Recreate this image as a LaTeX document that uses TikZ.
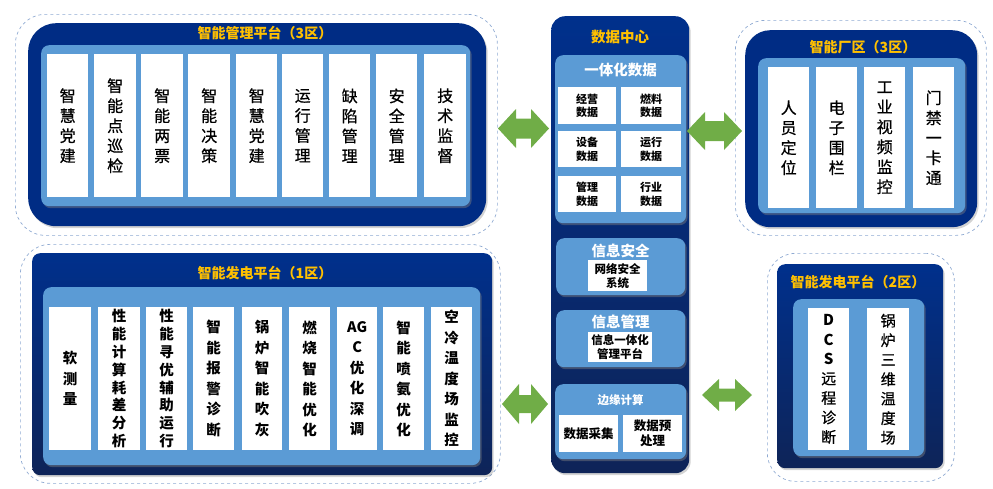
\documentclass[tikz,border=0pt]{standalone}
\usepackage{fontspec}
\newfontfamily\cjk{Noto Sans CJK SC}
\newfontfamily\cjkm{Noto Sans CJK SC}[FakeBold=0.6]
\usetikzlibrary{shadows,calc}
\definecolor{dkblue}{RGB}{0,44,132}
\definecolor{dkblueT}{RGB}{0,48,140}
\definecolor{dkblueB}{RGB}{14,36,88}
\definecolor{ltblue}{RGB}{91,155,213}
\definecolor{gold}{RGB}{255,192,0}
\definecolor{dashc}{RGB}{143,170,210}
\definecolor{agreen}{RGB}{112,173,71}
\begin{document}
\begin{tikzpicture}[x=1pt,y=-1pt,font=\cjk,
  rect/.style n args={4}{at={(#1,#2)},anchor=north west,inner sep=0pt,
     minimum width={#3pt-#1pt},minimum height={#4pt-#2pt}},
  dashbox/.style={draw=dashc,dashed,line width=0.7pt,rounded corners=30pt},
  darkpanel/.style={fill=dkblue,drop shadow={shadow xshift=1.5pt,shadow yshift=-2pt,opacity=0.35}},
  gradpanel/.style={top color=dkblueT,bottom color=dkblueB,drop shadow={shadow xshift=1.5pt,shadow yshift=-2pt,opacity=0.35}},
  lightpanel/.style={fill=ltblue,rounded corners=8pt,drop shadow={shadow xshift=1.5pt,shadow yshift=-2pt,opacity=0.45}},
  wbox/.style={fill=white,align=center,text=black},
  vtxt/.style={font=\cjkm\fontsize{16}{20}\selectfont},
  vbold/.style={font=\cjk\bfseries\fontsize{14.5}{20.5}\selectfont},
  vboldt/.style={font=\cjk\bfseries\fontsize{14.5}{17.8}\selectfont},
  stxt/.style={font=\cjk\bfseries\fontsize{11}{13.5}\selectfont},
  ttl/.style={text=gold,font=\cjk\bfseries\fontsize{14}{16}\selectfont},
  wttl/.style={text=white,font=\cjk\bfseries\fontsize{14.5}{16}\selectfont},
  dblarrow/.style={fill=agreen,draw=none}
]
\useasboundingbox (0,0) rectangle (993,488);

% ===== top-left: 智能管理平台 =====
\node[dashbox,rect={15}{14}{497}{235}] (tlD) {};
\node[darkpanel,rounded corners=28pt,rect={28}{23}{486}{226}] (tlP) {};
\node[ttl] (tlT) at (265,33.5) {智能管理平台（3区）};
\node[lightpanel,rect={41}{45}{470}{206}] (tlL) {};
\node[wbox,vtxt,rect={47}{54}{88}{197}] (tl1) {智\\慧\\党\\建};
\node[wbox,vtxt,rect={94}{54}{136}{197}] (tl2) {智\\能\\点\\巡\\检};
\node[wbox,vtxt,rect={141}{54}{183}{197}] (tl3) {智\\能\\两\\票};
\node[wbox,vtxt,rect={188}{54}{230}{197}] (tl4) {智\\能\\决\\策};
\node[wbox,vtxt,rect={236}{54}{277}{197}] (tl5) {智\\慧\\党\\建};
\node[wbox,vtxt,rect={282}{54}{323}{197}] (tl6) {运\\行\\管\\理};
\node[wbox,vtxt,rect={329}{54}{370}{197}] (tl7) {缺\\陷\\管\\理};
\node[wbox,vtxt,rect={376}{54}{417}{197}] (tl8) {安\\全\\管\\理};
\node[wbox,vtxt,rect={424}{54}{466}{197}] (tl9) {技\\术\\监\\督};

% ===== bottom-left: 智能发电平台（1区） =====
\node[dashbox,rect={20}{244}{500}{483}] (blD) {};
\node[gradpanel,rounded corners=8pt,rect={32}{253}{492}{475}] (blP) {};
\node[ttl] (blT) at (265,273) {智能发电平台（1区）};
\node[lightpanel,rect={43}{287}{480}{465}] (blL) {};
\node[wbox,vbold,rect={49}{307}{91}{450}] (bl1) {软\\测\\量};
\node[wbox,vboldt,rect={98}{307}{140}{450}] (bl2) {性\\能\\计\\算\\耗\\差\\分\\析};
\node[wbox,vboldt,rect={146}{307}{187}{450}] (bl3) {性\\能\\寻\\优\\辅\\助\\运\\行};
\node[wbox,vbold,rect={193}{307}{234}{450}] (bl4) {智\\能\\报\\警\\诊\\断};
\node[wbox,vbold,rect={242}{307}{282}{450}] (bl5) {锅\\炉\\智\\能\\吹\\灰};
\node[wbox,vbold,rect={289}{307}{330}{450}] (bl6) {燃\\烧\\智\\能\\优\\化};
\node[wbox,vbold,rect={337}{307}{377}{450}] (bl7) {AG\\C\\优\\化\\深\\调};
\node[wbox,vbold,rect={383}{307}{424}{450}] (bl8) {智\\能\\喷\\氨\\优\\化};
\node[wbox,vbold,rect={431}{307}{472}{450}] (bl9) {空\\冷\\温\\度\\场\\监\\控};

% ===== center: 数据中心 =====
\node[gradpanel,rounded corners=14pt,rect={551}{16}{689}{473}] (dc) {};
\node[ttl,font=\cjk\bfseries\fontsize{14.5}{16}\selectfont] (dcT) at (620,37) {数据中心};
\node[lightpanel,rect={555}{55}{686}{223}] (dc1) {};
\node[wttl] (dc1T) at (620.5,70) {一体化数据};
\node[wbox,stxt,rect={558}{87}{616}{124}] (d11) {经营\\数据};
\node[wbox,stxt,rect={621}{87}{681}{124}] (d12) {燃料\\数据};
\node[wbox,stxt,rect={558}{131}{616}{167}] (d21) {设备\\数据};
\node[wbox,stxt,rect={621}{131}{681}{167}] (d22) {运行\\数据};
\node[wbox,stxt,rect={558}{176}{616}{212}] (d31) {管理\\数据};
\node[wbox,stxt,rect={621}{176}{681}{212}] (d32) {行业\\数据};
\node[lightpanel,rect={556}{238}{685}{295}] (dc2) {};
\node[wttl] (dc2T) at (620.5,251) {信息安全};
\node[wbox,stxt,font=\cjk\bfseries\fontsize{11.5}{14}\selectfont,rect={588}{260}{647}{291}] (d41) {网络安全\\系统};
\node[lightpanel,rect={556}{310}{685}{367}] (dc3) {};
\node[wttl] (dc3T) at (620.5,322) {信息管理};
\node[wbox,stxt,font=\cjk\bfseries\fontsize{11.5}{14}\selectfont,rect={588}{332}{652}{362}] (d51) {信息一体化\\管理平台};
\node[lightpanel,rect={555}{384}{686}{459}] (dc4) {};
\node[wttl,font=\cjk\bfseries\fontsize{11.5}{13}\selectfont] (dc4T) at (620.5,400) {边缘计算};
\node[wbox,stxt,font=\cjk\bfseries\fontsize{12.5}{15}\selectfont,rect={559}{415}{618}{452}] (d61) {数据采集};
\node[wbox,stxt,font=\cjk\bfseries\fontsize{12.5}{15}\selectfont,rect={623}{415}{682}{452}] (d62) {数据预\\处理};

% ===== top-right: 智能厂区 =====
\node[dashbox,rect={735}{20}{986}{235}] (trD) {};
\node[darkpanel,rounded corners=25pt,rect={745}{30}{977}{227}] (trP) {};
\node[ttl] (trT) at (863,47) {智能厂区（3区）};
\node[lightpanel,rect={758}{58}{965}{213}] (trL) {};
\node[wbox,vtxt,rect={768}{67}{809}{208}] (tr1) {人\\员\\定\\位};
\node[wbox,vtxt,rect={816}{67}{857}{208}] (tr2) {电\\子\\围\\栏};
\node[wbox,vtxt,rect={864}{67}{905}{208}] (tr3) {工\\业\\视\\频\\监\\控};
\node[wbox,vtxt,rect={913}{67}{954}{208}] (tr4) {门\\禁\\一\\卡\\通};

% ===== bottom-right: 智能发电平台（2区） =====
\node[dashbox,rounded corners=28pt,rect={767}{253}{954}{481}] (brD) {};
\node[gradpanel,rounded corners=8pt,rect={777}{264}{943}{468}] (brP) {};
\node[ttl] (brT) at (858,282) {智能发电平台（2区）};
\node[lightpanel,rect={793}{299}{924}{456}] (brL) {};
\node[wbox,font=\cjkm\fontsize{15}{19.5}\selectfont,rect={808}{308}{849}{450}] (br1) {{\cjk\bfseries D}\\{\cjk\bfseries C}\\{\cjk\bfseries S}\\远\\程\\诊\\断};
\node[wbox,font=\cjkm\fontsize{15}{19.5}\selectfont,rect={867}{308}{909}{450}] (br2) {锅\\炉\\三\\维\\温\\度\\场};

% ===== green double arrows =====
\newcommand\dblarr[5]{% left, right, half head, half shaft, head length
  \fill[dblarrow] (#1) -- ($(#1)+(#5,-#3)$) -- ($(#1)+(#5,-#4)$) -- ($(#2)+(-#5,-#4)$)
    -- ($(#2)+(-#5,-#3)$) -- (#2) -- ($(#2)+(-#5,#3)$) -- ($(#2)+(-#5,#4)$)
    -- ($(#1)+(#5,#4)$) -- ($(#1)+(#5,#3)$) -- cycle;}
\coordinate (a1l) at (498,128.5); \coordinate (a1r) at (549,128.5);
\coordinate (a2l) at (687,131); \coordinate (a2r) at (742,131);
\coordinate (a3l) at (502,404); \coordinate (a3r) at (548,404);
\coordinate (a4l) at (702,395); \coordinate (a4r) at (752,395);
\dblarr{a1l}{a1r}{19.5}{10}{18}
\dblarr{a2l}{a2r}{19}{10}{18}
\dblarr{a3l}{a3r}{20}{9}{17}
\dblarr{a4l}{a4r}{16}{6.5}{17}
\end{tikzpicture}
\end{document}
